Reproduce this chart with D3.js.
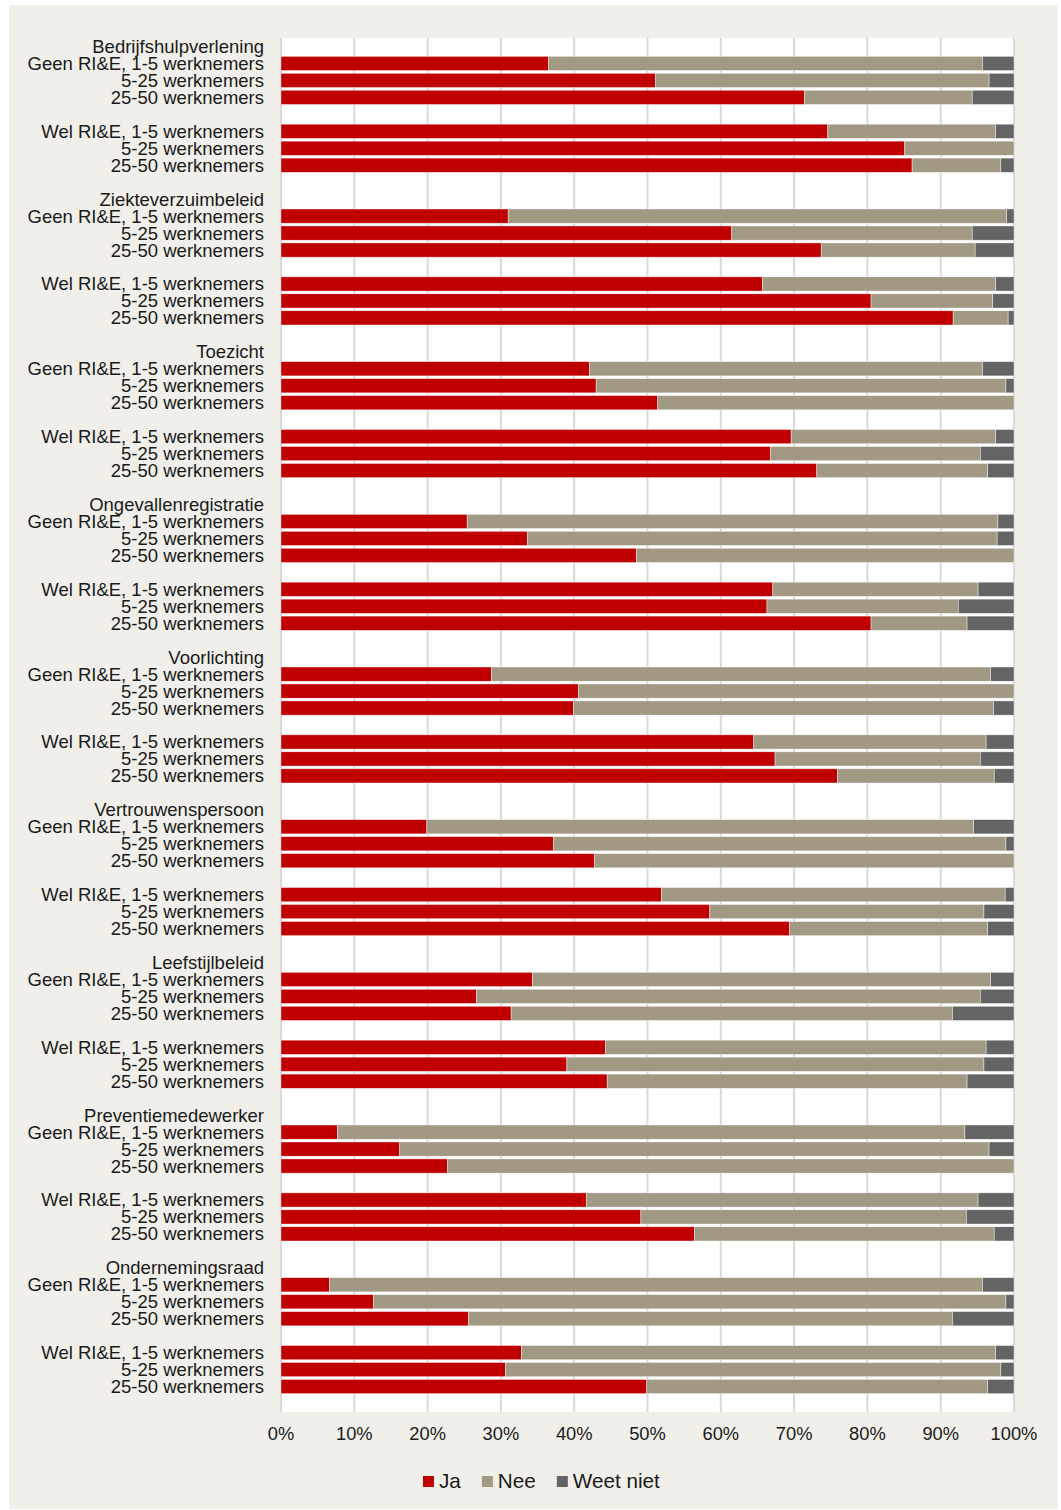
<!DOCTYPE html>
<html>
<head>
<meta charset="utf-8">
<script src="https://cdn.jsdelivr.net/npm/d3@7/dist/d3.min.js"></script>
<style>
  html, body { margin: 0; padding: 0; background: #ffffff; }
  svg { display: block; }
  text { font-family: "Liberation Sans", Arial, sans-serif; fill: #1a1a1a; }
</style>
</head>
<body>
<div id="chart"></div>
<script>
// Topics (one block each), the two RI&E groups and the three company sizes
const topics = [
  "Bedrijfshulpverlening", "Ziekteverzuimbeleid", "Toezicht",
  "Ongevallenregistratie", "Voorlichting", "Vertrouwenspersoon",
  "Leefstijlbeleid", "Preventiemedewerker", "Ondernemingsraad"
];
const groups = ["Geen RI&E", "Wel RI&E"];
const sizes = ["1-5 werknemers", "5-25 werknemers", "25-50 werknemers"];
const seriesNames = ["Ja", "Nee", "Weet niet"];
const tickLabels = ["0%", "10%", "20%", "30%", "40%", "50%", "60%", "70%", "80%", "90%", "100%"];

// Percentages per row, in order: topic -> Geen (1-5, 5-25, 25-50) -> Wel (1-5, 5-25, 25-50)
const ja = [
  36.5, 51.1, 71.4, 74.6, 85.1, 86.1,
  31.0, 61.5, 73.7, 65.7, 80.5, 91.7,
  42.1, 43.0, 51.4, 69.6, 66.8, 73.1,
  25.4, 33.6, 48.5, 67.1, 66.3, 80.5,
  28.7, 40.6, 39.9, 64.5, 67.4, 75.9,
  19.9, 37.2, 42.8, 51.9, 58.5, 69.4,
  34.3, 26.7, 31.4, 44.3, 39.0, 44.5,
   7.7, 16.2, 22.7, 41.7, 49.1, 56.4,
   6.6, 12.6, 25.6, 32.8, 30.6, 49.9
];
const nee = [
  59.2, 45.5, 22.9, 22.9, 14.9, 12.1,
  68.0, 32.8, 21.0, 31.8, 16.6,  7.5,
  53.6, 55.9, 48.6, 27.9, 28.6, 23.3,
  72.4, 64.1, 51.5, 28.0, 26.1, 13.1,
  68.1, 59.4, 57.3, 31.7, 28.0, 21.4,
  74.6, 61.7, 57.2, 46.9, 37.4, 27.0,
  62.5, 68.7, 60.2, 51.9, 56.9, 49.1,
  85.6, 80.4, 77.3, 53.4, 44.4, 40.9,
  89.1, 86.3, 66.0, 64.7, 67.6, 46.5
];
const weetNiet = [
   4.3,  3.4,  5.7,  2.5,  0.0,  1.8,
   1.0,  5.7,  5.3,  2.5,  2.9,  0.8,
   4.3,  1.1,  0.0,  2.5,  4.6,  3.6,
   2.2,  2.3,  0.0,  4.9,  7.6,  6.4,
   3.2,  0.0,  2.8,  3.8,  4.6,  2.7,
   5.5,  1.1,  0.0,  1.2,  4.1,  3.6,
   3.2,  4.6,  8.4,  3.8,  4.1,  6.4,
   6.7,  3.4,  0.0,  4.9,  6.5,  2.7,
   4.3,  1.1,  8.4,  2.5,  1.8,  3.6
];

const colors = ["#c00000", "#a29984", "#646464"];

const W = 1061, H = 1510;
const plot = { left: 281, right: 1014, top: 38, bottom: 1412 };

// Build the row list: per topic a title row, three Geen rows, a gap, three Wel rows, a gap
const rows = [];
let dataIdx = 0;
topics.forEach((topic, t) => {
  rows.push({ key: `t${t}-title`, type: "title", label: topic });
  groups.forEach((g, gi) => {
    sizes.forEach((s, si) => {
      const label = si === 0 ? `${g}, ${s}` : s;
      rows.push({
        key: `t${t}-g${gi}-s${si}`, type: "bar", label,
        values: [ja[dataIdx], nee[dataIdx], weetNiet[dataIdx]]
      });
      dataIdx++;
    });
    if (gi === 0) rows.push({ key: `t${t}-gap`, type: "gap" });
  });
  rows.push({ key: `t${t}-end`, type: "gap" });
});

const svg = d3.select("#chart").append("svg")
  .attr("width", W).attr("height", H);

// Panel background
svg.append("rect").attr("x", 9).attr("y", 5)
  .attr("width", 1049).attr("height", 1504).attr("fill", "#f0efe9");

// Plot area
svg.append("rect")
  .attr("x", plot.left).attr("y", plot.top)
  .attr("width", plot.right - plot.left).attr("height", plot.bottom - plot.top)
  .attr("fill", "#ffffff");

const x = d3.scaleLinear().domain([0, 100]).range([plot.left, plot.right]);
const y = d3.scaleBand()
  .domain(rows.map(r => r.key))
  .range([plot.top, plot.bottom])
  .paddingInner(0.16).paddingOuter(0.08);

// Vertical gridlines
const ticks = d3.range(0, 101, 10);
svg.append("g").selectAll("line").data(ticks).join("line")
  .attr("x1", d => x(d)).attr("x2", d => x(d))
  .attr("y1", plot.top).attr("y2", plot.bottom)
  .attr("stroke", "#d9d9d9").attr("stroke-width", 2);

// Stacked bars
const barRows = rows.filter(r => r.type === "bar");
const stackData = barRows.map(r => {
  const o = { key: r.key };
  seriesNames.forEach((n, i) => { o[n] = r.values[i]; });
  return o;
});
const stacked = d3.stack().keys(seriesNames)(stackData);

svg.append("g").selectAll("g").data(stacked).join("g")
  .attr("fill", (d, i) => colors[i])
  .selectAll("rect").data(d => d).join("rect")
  .filter(d => d[1] - d[0] > 0)
  .attr("x", d => x(d[0]))
  .attr("width", d => x(d[1]) - x(d[0]))
  .attr("y", d => y(d.data.key))
  .attr("height", y.bandwidth())
  .attr("stroke", "#ffffff").attr("stroke-width", 0.6).attr("stroke-opacity", 0.7);

// Category labels
const labelX = 264;
svg.append("g").selectAll("text").data(rows.filter(r => r.type !== "gap")).join("text")
  .attr("x", labelX)
  .attr("y", d => y(d.key) + y.bandwidth() / 2 + 6.5)
  .attr("text-anchor", "end")
  .attr("font-size", "18.5px")
  .text(d => d.label);

// X axis tick labels
svg.append("g").selectAll("text").data(ticks).join("text")
  .attr("x", d => x(d))
  .attr("y", 1440)
  .attr("text-anchor", "middle")
  .attr("font-size", "18.3px")
  .text((d, i) => tickLabels[i]);

// Legend
const legend = svg.append("g");
let lx = 423;
seriesNames.forEach((name, i) => {
  legend.append("rect")
    .attr("x", lx).attr("y", 1476).attr("width", 11).attr("height", 11)
    .attr("fill", colors[i]);
  const t = legend.append("text")
    .attr("x", lx + 16).attr("y", 1488)
    .attr("font-size", "20.7px")
    .text(name);
  lx += 16 + t.node().getComputedTextLength() + 21;
});
</script>
</body>
</html>
